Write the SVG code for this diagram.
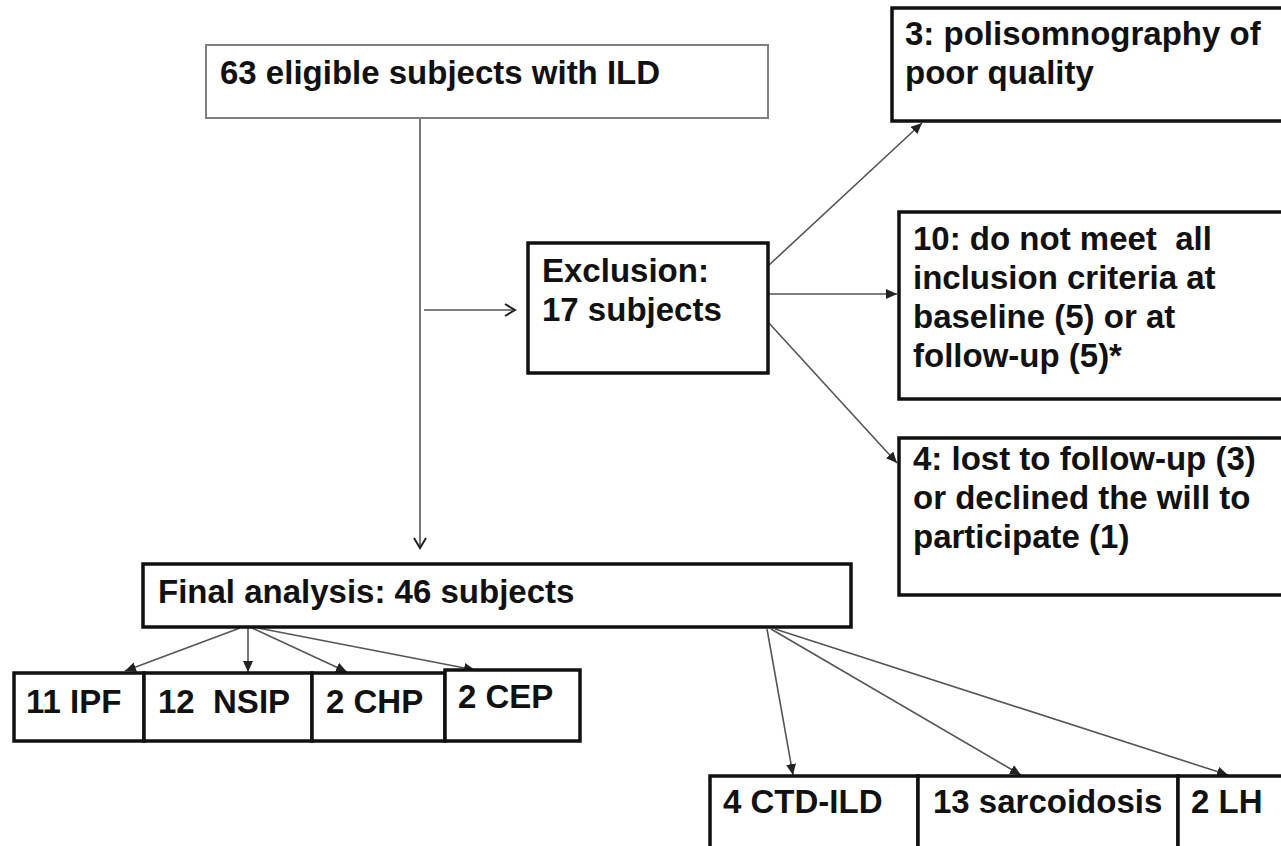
<svg xmlns="http://www.w3.org/2000/svg" width="1281" height="846" viewBox="0 0 1281 846">
<style>
.box{fill:#fff;stroke:#111;stroke-width:3.5}
.thin{fill:#fff;stroke:#808080;stroke-width:2}
.t{font-family:"Liberation Sans",Arial,sans-serif;font-weight:bold;font-size:33px;fill:#111}
.c{stroke:#555;stroke-width:1.6;fill:none}
</style>
<defs>
<marker id="ah" markerUnits="userSpaceOnUse" markerWidth="12" markerHeight="10" refX="11" refY="5" orient="auto">
<path d="M0,0 L11,5 L0,10 Z" fill="#222"/>
</marker>
<marker id="ch" markerUnits="userSpaceOnUse" markerWidth="14" markerHeight="14" refX="11" refY="7" orient="auto">
<path d="M1,1 L11,7 L1,13" fill="none" stroke="#222" stroke-width="2"/>
</marker>
</defs>
<rect width="1281" height="846" fill="#fff"/>
<g id="connectors">
<line class="c" x1="420" y1="118" x2="420" y2="548" marker-end="url(#ch)"/>
<line class="c" x1="424" y1="310" x2="515" y2="310" marker-end="url(#ch)"/>
<line class="c" x1="768" y1="266" x2="922" y2="123" marker-end="url(#ah)"/>
<line class="c" x1="768" y1="294" x2="897" y2="294" marker-end="url(#ah)"/>
<line class="c" x1="768" y1="322" x2="897" y2="463" marker-end="url(#ah)"/>
<line class="c" x1="240" y1="628" x2="125" y2="671" marker-end="url(#ah)"/>
<line class="c" x1="248" y1="628" x2="248" y2="672" marker-end="url(#ah)"/>
<line class="c" x1="252" y1="628" x2="347" y2="672" marker-end="url(#ah)"/>
<line class="c" x1="258" y1="628" x2="475" y2="670" marker-end="url(#ah)"/>
<line class="c" x1="767" y1="629" x2="793" y2="775" marker-end="url(#ah)"/>
<line class="c" x1="771" y1="629" x2="1021" y2="775" marker-end="url(#ah)"/>
<line class="c" x1="775" y1="629" x2="1228" y2="775" marker-end="url(#ah)"/>
</g>
<g id="eligible">
<rect class="thin" x="206" y="45" width="562" height="73"/>
<text class="t" x="220" y="84">63 eligible subjects with ILD</text>
</g>
<g id="poor-quality">
<rect class="box" x="892" y="8" width="400" height="113"/>
<text class="t" x="905" y="45">3: polisomnography of</text>
<text class="t" x="905" y="84">poor quality</text>
</g>
<g id="exclusion">
<rect class="box" x="528" y="243" width="240" height="130"/>
<text class="t" x="542" y="282">Exclusion:</text>
<text class="t" x="542" y="321">17 subjects</text>
</g>
<g id="criteria">
<rect class="box" x="899" y="212" width="400" height="187"/>
<text class="t" x="913" y="250">10: do not meet &#160;all</text>
<text class="t" x="913" y="289">inclusion criteria at</text>
<text class="t" x="913" y="328">baseline (5) or at</text>
<text class="t" x="913" y="367">follow-up (5)*</text>
</g>
<g id="lost">
<rect class="box" x="899" y="438" width="400" height="157"/>
<text class="t" x="913" y="470">4: lost to follow-up (3)</text>
<text class="t" x="913" y="509">or declined the will to</text>
<text class="t" x="913" y="548">participate (1)</text>
</g>
<g id="final">
<rect class="box" x="143" y="564" width="708" height="63"/>
<text class="t" x="158" y="603">Final analysis: 46 subjects</text>
</g>
<g id="ipf">
<rect class="box" x="14" y="673" width="130" height="68"/>
<text class="t" x="26" y="713">11 IPF</text>
</g>
<g id="nsip">
<rect class="box" x="144" y="673" width="168" height="68"/>
<text class="t" x="158" y="713">12 &#160;NSIP</text>
</g>
<g id="chp">
<rect class="box" x="312" y="673" width="133" height="68"/>
<text class="t" x="326" y="713">2 CHP</text>
</g>
<g id="cep">
<rect class="box" x="445" y="670" width="135" height="71"/>
<text class="t" x="458" y="708">2 CEP</text>
</g>
<g id="ctd">
<rect class="box" x="710" y="776" width="208" height="90"/>
<text class="t" x="723" y="813">4 CTD-ILD</text>
</g>
<g id="sarcoidosis">
<rect class="box" x="918" y="776" width="260" height="90"/>
<text class="t" x="933" y="813">13 sarcoidosis</text>
</g>
<g id="lh">
<rect class="box" x="1178" y="776" width="120" height="90"/>
<text class="t" x="1191" y="813">2 LH</text>
</g>
</svg>
